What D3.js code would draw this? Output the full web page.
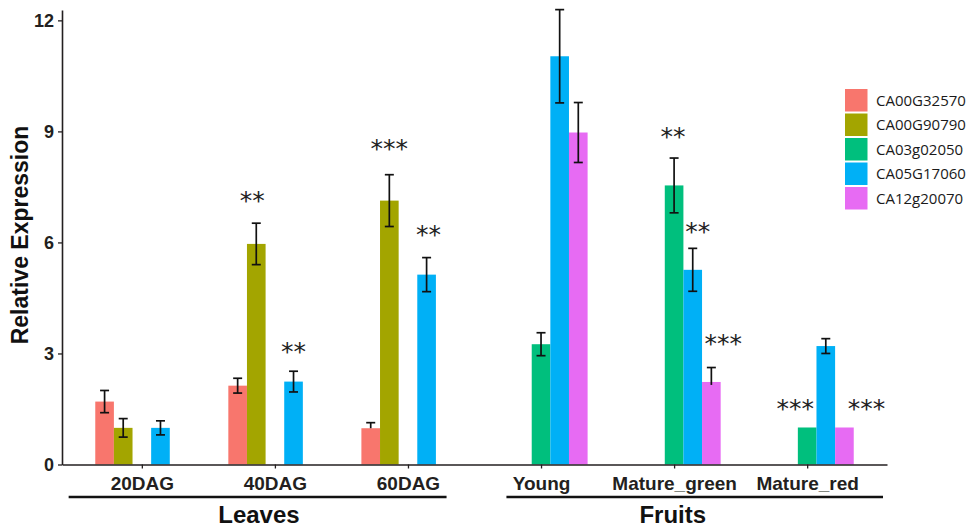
<!DOCTYPE html>
<html>
<head>
<meta charset="utf-8">
<script src="https://cdn.jsdelivr.net/npm/d3@7"></script>
<style>
    body { margin: 0; background: #fff; }
    svg { display: block; }
</style>
</head>
<body>
<svg id="chart" width="968" height="528"></svg>
<script>
// sample groups and genes
const groups = ["20DAG", "40DAG", "60DAG", "Young", "Mature_green", "Mature_red"];
const genes = ["CA00G32570", "CA00G90790", "CA03g02050", "CA05G17060", "CA12g20070"];
const geneColors = ["#F8766D", "#A3A500", "#00BF7D", "#00B0F6", "#E76BF3"];

// mean relative expression per gene, one value per group (null = not measured)
const meanCA00G32570 = [1.70, 2.13, 0.98, null, null, null];
const meanCA00G90790 = [0.99, 5.96, 7.13, null, null, null];
const meanCA03g02050 = [null, null, null, 3.25, 7.54, 1.00];
const meanCA05G17060 = [0.99, 2.24, 5.13, 11.03, 5.26, 3.20];
const meanCA12g20070 = [null, null, null, 8.97, 2.23, 1.00];

// error bars (upper / lower)
const errUpCA00G32570 = [0.30, 0.20, 0.15, null, null, null];
const errUpCA00G90790 = [0.25, 0.56, 0.70, null, null, null];
const errUpCA03g02050 = [null, null, null, 0.31, 0.74, 0];
const errUpCA05G17060 = [0.19, 0.28, 0.46, 1.26, 0.58, 0.20];
const errUpCA12g20070 = [null, null, null, 0.81, 0.39, 0];

const errLowCA00G32570 = [0.30, 0.20, 0, null, null, null];
const errLowCA00G90790 = [0.25, 0.56, 0.70, null, null, null];
const errLowCA03g02050 = [null, null, null, 0.31, 0.74, 0];
const errLowCA05G17060 = [0.19, 0.28, 0.46, 1.26, 0.58, 0.20];
const errLowCA12g20070 = [null, null, null, 0.81, 0.08, 0];

// significance marks: group, gene, label, baseline height
const sigGroup = ["40DAG", "40DAG", "60DAG", "60DAG", "Mature_green", "Mature_green", "Mature_green", "Mature_red", "Mature_red"];
const sigGene = ["CA00G90790", "CA05G17060", "CA00G90790", "CA05G17060", "CA03g02050", "CA05G17060", "CA12g20070", "CA03g02050", "CA12g20070"];
const sigText = ["**", "**", "***", "**", "**", "**", "***", "***", "***"];
const sigY = [6.91, 2.82, 8.31, 5.99, 8.64, 6.06, 3.04, 1.27, 1.27];

const yTicks = [0, 3, 6, 9, 12];
const sections = [
    { name: "Leaves", from: "20DAG", to: "60DAG" },
    { name: "Fruits", from: "Young", to: "Mature_red" }
];

const means = [meanCA00G32570, meanCA00G90790, meanCA03g02050, meanCA05G17060, meanCA12g20070];
const errUps = [errUpCA00G32570, errUpCA00G90790, errUpCA03g02050, errUpCA05G17060, errUpCA12g20070];
const errLows = [errLowCA00G32570, errLowCA00G90790, errLowCA03g02050, errLowCA05G17060, errLowCA12g20070];

const bars = genes.flatMap((gene, gi) => groups.map((group, k) => ({
    gene: gene,
    gi: gi,
    group: group,
    value: means[gi][k],
    up: errUps[gi][k],
    low: errLows[gi][k]
}))).filter(d => d.value !== null);

const svg = d3.select("#chart");
const inkColor = "#231f20";

const x = d3.scalePoint().domain(groups).range([62, 887]).padding(0.6);
const slot = x.step() * 0.7 / genes.length;
const xBar = d3.scaleBand().domain(d3.range(genes.length)).range([-slot * 2.5, slot * 2.5]);
const y = d3.scaleLinear().domain([0, 12.28]).range([464.5, 10]);

// bars
svg.append("g")
    .selectAll("rect")
    .data(bars)
    .enter().append("rect")
    .attr("x", d => x(d.group) + xBar(d.gi))
    .attr("y", d => y(d.value))
    .attr("width", xBar.bandwidth())
    .attr("height", d => y(0) - y(d.value))
    .attr("fill", d => geneColors[d.gi]);

// error bars
const eb = svg.append("g")
    .attr("stroke", "#111")
    .attr("stroke-width", 1.7)
    .selectAll("g")
    .data(bars.filter(d => d.up > 0))
    .enter().append("g")
    .attr("transform", d => `translate(${x(d.group) + xBar(d.gi) + xBar.bandwidth() / 2},0)`);

eb.append("line")
    .attr("y1", d => y(d.value + d.up))
    .attr("y2", d => y(d.value - d.low));
eb.append("line")
    .attr("x1", -4.5).attr("x2", 4.5)
    .attr("y1", d => y(d.value + d.up))
    .attr("y2", d => y(d.value + d.up));
eb.filter(d => d.low > 0.1).append("line")
    .attr("x1", -4.5).attr("x2", 4.5)
    .attr("y1", d => y(d.value - d.low))
    .attr("y2", d => y(d.value - d.low));

// significance asterisks, some nudged sideways as in the figure
const sigNudge = [-4, 0, 0, 2, -1, 5, 12, -12, 22];
svg.append("g")
    .selectAll("text")
    .data(sigText)
    .enter().append("text")
    .attr("x", (t, i) => x(sigGroup[i]) + xBar(genes.indexOf(sigGene[i])) + xBar.bandwidth() / 2 + sigNudge[i])
    .attr("y", (t, i) => y(sigY[i]))
    .attr("text-anchor", "middle")
    .style("font-family", "'DejaVu Sans', sans-serif")
    .style("font-size", "25px")
    .style("fill", "#222")
    .text(t => t);

// y axis
const yAxis = svg.append("g")
    .attr("transform", "translate(62,0)")
    .call(d3.axisLeft(y).tickValues(yTicks).tickSize(4).tickPadding(4).tickSizeOuter(0));
yAxis.select(".domain").attr("stroke", inkColor).attr("stroke-width", 1.6);
yAxis.selectAll(".tick line").attr("stroke", inkColor).attr("stroke-width", 1.3);
yAxis.selectAll(".tick text")
    .style("font-family", "'Liberation Sans', Arial, sans-serif")
    .style("font-size", "18px")
    .style("font-weight", "bold")
    .style("fill", inkColor);

// x axis
const xAxis = svg.append("g")
    .attr("transform", `translate(0,${y(0)})`)
    .call(d3.axisBottom(x).tickSize(4).tickPadding(6).tickSizeOuter(0));
xAxis.select(".domain").attr("stroke", inkColor).attr("stroke-width", 1.6);
xAxis.selectAll(".tick line").attr("stroke", inkColor).attr("stroke-width", 1.3);
xAxis.selectAll(".tick text")
    .attr("dy", "0.8em")
    .style("font-family", "'Liberation Sans', Arial, sans-serif")
    .style("font-size", "19px")
    .style("font-weight", "bold")
    .style("fill", inkColor);

// y title
svg.append("text")
    .attr("transform", "translate(28,235) rotate(-90)")
    .attr("text-anchor", "middle")
    .style("font-family", "'Liberation Sans', Arial, sans-serif")
    .style("font-size", "23px")
    .style("font-weight", "bold")
    .style("fill", "#111")
    .text("Relative Expression");

// section underlines and names
const secLine = [[-0.55, 0.29], [-0.26, 0.57]];
const secTextX = [-0.12, 0.99];
const sec = svg.append("g")
    .selectAll("g")
    .data(sections)
    .enter().append("g");
sec.append("line")
    .attr("x1", (d, i) => x(d.from) + secLine[i][0] * x.step())
    .attr("x2", (d, i) => x(d.to) + secLine[i][1] * x.step())
    .attr("y1", 497).attr("y2", 497)
    .attr("stroke", "#111")
    .attr("stroke-width", 2.6);
sec.append("text")
    .attr("x", (d, i) => x(d.from) + (x(d.to) - x(d.from)) / 2 + secTextX[i] * x.step() - (i === 1 ? x.step() : 0))
    .attr("y", 523)
    .attr("text-anchor", "middle")
    .style("font-family", "'Liberation Sans', Arial, sans-serif")
    .style("font-size", "24px")
    .style("font-weight", "bold")
    .style("fill", "#111")
    .text(d => d.name);

// legend
const legend = svg.append("g")
    .attr("transform", "translate(845,89)")
    .selectAll("g")
    .data(genes)
    .enter().append("g")
    .attr("transform", (d, i) => `translate(0,${i * 24.5})`);
legend.append("rect")
    .attr("width", 22.5)
    .attr("height", 22.5)
    .attr("fill", (d, i) => geneColors[i]);
legend.append("text")
    .attr("x", 31)
    .attr("y", 11.5)
    .attr("dy", "0.35em")
    .style("font-family", "'Open Sans', sans-serif")
    .style("font-size", "15px")
    .style("fill", "#1a1a1a")
    .text(d => d);
</script>
</body>
</html>
